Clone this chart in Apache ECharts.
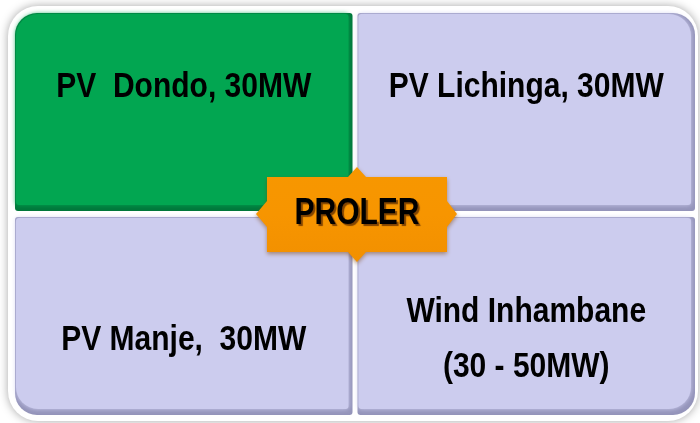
<!DOCTYPE html>
<html>
<head>
<meta charset="utf-8">
<script src="https://cdn.jsdelivr.net/npm/echarts@6/dist/echarts.min.js"></script>
<style>
  html, body { margin: 0; padding: 0; background: #fff; }
  #main { width: 700px; height: 423px; }
</style>
</head>
<body>
<div id="main"></div>
<script>
// grid cells: column, row, label
const columns = ["left", "right"];
const rows = ["top", "bottom"];
const cellCols = [0, 1, 0, 1];
const cellRows = [0, 0, 1, 1];
const cellLabels = ["PV  Dondo, 30MW", "PV Lichinga, 30MW", "PV Manje,  30MW", "Wind Inhambane\n(30 - 50MW)"];
const centerLabel = "PROLER";

// styling
const fills = ["#02A651", "#CCCCEE", "#CCCCEE", "#CCCCEE"];
const edges = ["#00773B", "#9494BA", "#9494BA", "#9494BA"];
const outerR = 22;
const innerR = 3;

const chart = echarts.init(document.getElementById("main"));

const renderCell = function (params, api) {
  const col = api.value(0);
  const row = api.value(1);
  const i = api.value(2);
  const c = api.coord([col, row]);
  const s = api.size([1, 1]);
  const gapX = 2.5, gapY = 3;
  let x = c[0] - s[0] / 2, y = c[1] - s[1] / 2;
  let w = s[0] - gapX, h = s[1] - gapY;
  if (col === 1) x += gapX;
  if (row === 1) y += gapY;
  // radius order: tl, tr, br, bl
  const r = [innerR, innerR, innerR, innerR];
  if (col === 0 && row === 0) r[0] = outerR;
  if (col === 1 && row === 0) r[1] = outerR;
  if (col === 1 && row === 1) r[2] = outerR;
  if (col === 0 && row === 1) r[3] = outerR;
  const ty = row === 0 ? y + h * 0.375 : y + h * 0.62;
  return {
    type: "group",
    children: [
      { type: "rect", shape: { x: x, y: y, width: w, height: h, r: r }, style: { fill: edges[i] } },
      {
        type: "rect",
        shape: { x: x + 1, y: y + 1, width: w - 5, height: h - 7, r: r },
        style: { fill: fills[i], shadowBlur: 5, shadowColor: fills[i] }
      },
      {
        type: "text",
        x: x + w / 2,
        y: ty,
        scaleY: 1.18,
        style: {
          text: cellLabels[i],
          x: 0, y: 0,
          align: "center",
          verticalAlign: "middle",
          font: "bold 30px 'Liberation Sans', Arial, sans-serif",
          lineHeight: 46,
          fill: "#000"
        }
      }
    ]
  };
};

const cx = 357, cy = 214;
const plaque = [
  [267, 177], [348, 177], [357, 167], [366, 177], [447, 177],
  [447, 201], [457, 214], [447, 227],
  [447, 252], [366, 252], [357, 262], [348, 252], [267, 252],
  [267, 227], [256, 214], [267, 201]
];

chart.setOption({
  backgroundColor: "#fff",
  animation: false,
  grid: { left: 15, right: 5, top: 13, bottom: 8 },
  xAxis: { type: "category", data: columns, show: false },
  yAxis: { type: "category", data: rows, inverse: true, show: false },
  graphic: [
    {
      type: "rect",
      z: -10,
      shape: { x: 8, y: 6, width: 690, height: 415, r: 30 },
      style: { fill: "#fff", shadowBlur: 10, shadowColor: "rgba(0,0,0,0.35)" }
    },
    {
      type: "polygon",
      z: 100,
      shape: { points: plaque },
      style: {
        fill: new echarts.graphic.LinearGradient(0, 0, 0, 1, [
          { offset: 0, color: "#F79700" },
          { offset: 0.5, color: "#F79500" },
          { offset: 1, color: "#F29000" }
        ]),
        shadowBlur: 4,
        shadowOffsetY: 2,
        shadowColor: "rgba(120,60,0,0.5)"
      }
    },
    {
      type: "text",
      z: 101,
      x: cx,
      y: cy,
      scaleY: 1.2,
      style: {
        text: centerLabel,
        x: 0, y: 0,
        align: "center",
        verticalAlign: "middle",
        font: "bold 30px 'Liberation Sans', Arial, sans-serif",
        fill: "#000",
        textShadowColor: "rgba(90,40,0,0.75)",
        textShadowBlur: 1,
        textShadowOffsetX: 2,
        textShadowOffsetY: 2
      }
    }
  ],
  series: [
    {
      type: "custom",
      renderItem: renderCell,
      data: cellLabels.map((t, i) => [cellCols[i], cellRows[i], i])
    }
  ]
});
</script>
</body>
</html>
